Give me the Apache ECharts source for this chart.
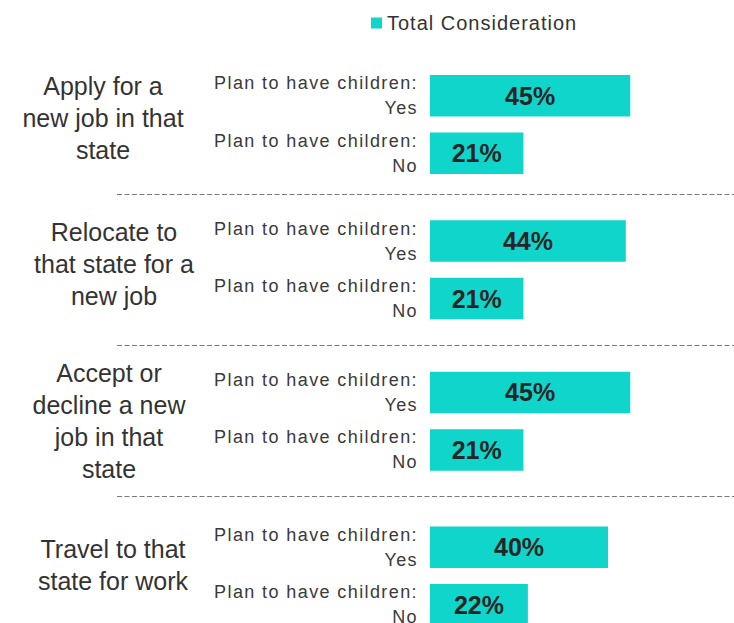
<!DOCTYPE html>
<html>
<head>
<meta charset="utf-8">
<script src="https://cdn.jsdelivr.net/npm/echarts@6/dist/echarts.min.js"></script>
<style>
    html, body { margin: 0; padding: 0; background: #fff; }
    #chart { width: 734px; height: 623px; }
    /* the small labels in the original are spaced out a little */
    #chart text[style*="18px"] { letter-spacing: 1.4px; }
    #chart text[style*="20px"] { letter-spacing: 1px; }
</style>
</head>
<body>
<div id="chart"></div>
<script>
// data
const groups = [
    "Apply for a\nnew job in that\nstate",
    "Relocate to\nthat state for a\nnew job",
    "Accept or\ndecline a new\njob in that\nstate",
    "Travel to that\nstate for work",
];
const answers = ["Plan to have children:\nYes", "Plan to have children:\nNo"];
const yesValues = [45, 44, 45, 40];
const noValues = [21, 21, 21, 22];
const seriesName = "Total Consideration";

const font = "'Liberation Sans', Arial, sans-serif";
const barColor = "#10d5cb";
// layout of each block (top of grid, label centre)
const gridTops = [67, 212.3, 363.7, 518.4];
const groupLabelPos = [[103, 118], [114, 264], [109, 421], [113, 564.5]];
const separatorsY = [194.5, 345.5, 496.5];

let myChart = echarts.init(document.getElementById("chart"), null, { renderer: "svg" });

let grid = [];
let xAxis = [];
let yAxis = [];
let series = [];
groups.forEach((g, i) => {
    grid.push({
        left: 430,
        width: 267,
        top: gridTops[i],
        height: 115,
        outerBoundsMode: "none",
    });
    xAxis.push({
        gridIndex: i,
        type: "value",
        min: 0,
        max: 60,
        show: false,
    });
    yAxis.push({
        gridIndex: i,
        type: "category",
        inverse: true,
        data: answers,
        axisLine: { show: false },
        axisTick: { show: false },
        axisLabel: {
            color: "#3a3a3a",
            fontFamily: font,
            fontSize: 18,
            lineHeight: 25,
            align: "right",
            margin: 12,
        },
    });
    series.push({
        name: seriesName,
        type: "bar",
        xAxisIndex: i,
        yAxisIndex: i,
        barWidth: 41.5,
        itemStyle: { color: barColor },
        label: {
            show: true,
            position: "inside",
            formatter: "{c}%",
            color: "#262626",
            fontFamily: font,
            fontWeight: "bold",
            fontSize: 25,
        },
        data: [yesValues[i], noValues[i]],
    });
});

let graphic = [];
groups.forEach((g, i) => {
    graphic.push({
        type: "text",
        x: groupLabelPos[i][0],
        y: groupLabelPos[i][1],
        style: {
            text: g,
            fill: "#333",
            fontFamily: font,
            fontSize: 25,
            lineHeight: 32,
            align: "center",
            verticalAlign: "middle",
        },
    });
});
separatorsY.forEach((y) => {
    graphic.push({
        type: "line",
        shape: { x1: 117, y1: y, x2: 734, y2: y },
        style: { stroke: "#7a7a7a", lineWidth: 1, lineDash: [5, 2.5] },
    });
});

myChart.setOption({
    animation: false,
    legend: {
        data: [seriesName],
        left: 366,
        top: 8,
        icon: "rect",
        itemWidth: 11,
        itemHeight: 11,
        itemGap: 5,
        textStyle: {
            color: "#333",
            fontFamily: font,
            fontSize: 20,
        },
    },
    grid: grid,
    xAxis: xAxis,
    yAxis: yAxis,
    series: series,
    graphic: graphic,
});
</script>
</body>
</html>
